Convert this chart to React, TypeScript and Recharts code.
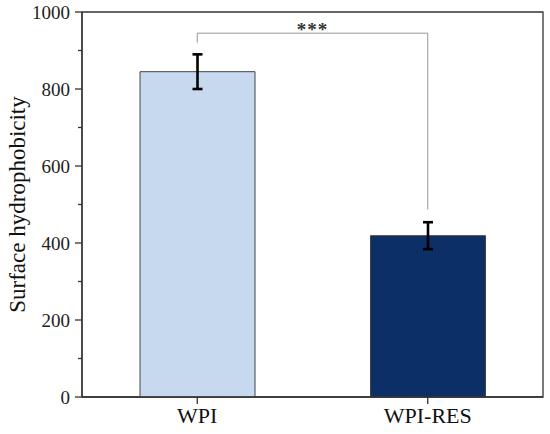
import React from 'react'
import { BarChart, Bar, XAxis, YAxis, ErrorBar, ReferenceLine, ReferenceArea } from 'recharts'

// values
const groups = ['WPI', 'WPI-RES']
const hydrophobicity = [845, 419]
const sdError = [45, 35]
const colors = ['#c6d9ee', '#0b2f66']

const majorTicks = [0, 200, 400, 600, 800, 1000]
const minorTicks = [100, 300, 500, 700, 900]

// significance bracket (y values in data units)
const bracketTop = 945
const bracketLeftEnd = 920
const bracketRightEnd = 487
const sigLabel = '***'

const data = groups.map((name, i) => ({
  name,
  value: hydrophobicity[i],
  err: sdError[i],
  fill: colors[i],
}))

const FONT = '"Liberation Serif", "Times New Roman", serif'
const AXIS = '#333'
const TICK_SIZE = 7
const TICK_MARGIN = 5

function YTick(props: any) {
  const { x, y, payload } = props
  const axisX = x + TICK_SIZE + TICK_MARGIN
  const isMajor = majorTicks.includes(payload.value)
  const len = isMajor ? TICK_SIZE : 4
  return (
    <g>
      <line x1={axisX - len} x2={axisX} y1={y} y2={y} stroke={AXIS} strokeWidth={1.3} />
      {isMajor && (
        <text x={x} y={y} dy="0.36em" textAnchor="end" fontFamily={FONT} fontSize={19} fill="#222">
          {payload.value}
        </text>
      )}
    </g>
  )
}

function App() {
  return (
    <div style={{ position: 'absolute', left: 0, top: 0, background: '#fff' }}>
      <BarChart
        width={550}
        height={434}
        data={data}
        margin={{ top: 12, right: 7, left: 0, bottom: 0 }}
      >
        {/* frame around the plot */}
        <ReferenceArea
          y1={0}
          y2={1000}
          fill="none"
          stroke={AXIS}
          strokeWidth={1.3}
        />
        <XAxis
          dataKey="name"
          height={37}
          axisLine={{ stroke: AXIS, strokeWidth: 1.3 }}
          tickLine={{ stroke: AXIS, strokeWidth: 1.3 }}
          tickSize={7}
          tickMargin={3}
          tick={{ fontFamily: FONT, fontSize: 22, fill: '#111' }}
        />
        <YAxis
          width={82}
          domain={[0, 1000]}
          ticks={[...majorTicks, ...minorTicks].sort((a, b) => a - b)}
          interval={0}
          tickSize={TICK_SIZE}
          tickMargin={TICK_MARGIN}
          tickLine={{ stroke: 'none' }}
          axisLine={{ stroke: AXIS, strokeWidth: 1.3 }}
          tick={<YTick />}
          label={{
            content: ({ viewBox }: any) => {
              const cy = viewBox.y + viewBox.height / 2
              return (
                <text
                  x={25}
                  y={cy}
                  transform={`rotate(-90, 25, ${cy})`}
                  textAnchor="middle"
                  fontFamily={FONT}
                  fontSize={23}
                  fill="#111"
                >
                  Surface hydrophobicity
                </text>
              )
            },
          }}
        />
        <Bar
          dataKey="value"
          barSize={115}
          stroke="#444"
          strokeWidth={1}
          isAnimationActive={false}
        >
          <ErrorBar dataKey="err" width={5} stroke="#000" strokeWidth={2.6} isAnimationActive={false} />
        </Bar>
        <ReferenceLine
          segment={[
            { x: groups[0], y: bracketLeftEnd },
            { x: groups[0], y: bracketTop },
          ]}
          stroke="#999"
          strokeWidth={1}
        />
        <ReferenceLine
          segment={[
            { x: groups[1], y: bracketRightEnd },
            { x: groups[1], y: bracketTop },
          ]}
          stroke="#999"
          strokeWidth={1}
        />
        <ReferenceLine
          segment={[
            { x: groups[0], y: bracketTop },
            { x: groups[1], y: bracketTop },
          ]}
          stroke="#999"
          strokeWidth={1}
          label={{
            content: ({ viewBox }: any) => (
              <text
                x={viewBox.x + viewBox.width / 2}
                y={viewBox.y + 3}
                textAnchor="middle"
                fontFamily={FONT}
                fontSize={19}
                fontWeight="bold"
                letterSpacing={1}
                fill="#333"
              >
                {sigLabel}
              </text>
            ),
          }}
        />
      </BarChart>
    </div>
  )
}

export default App
